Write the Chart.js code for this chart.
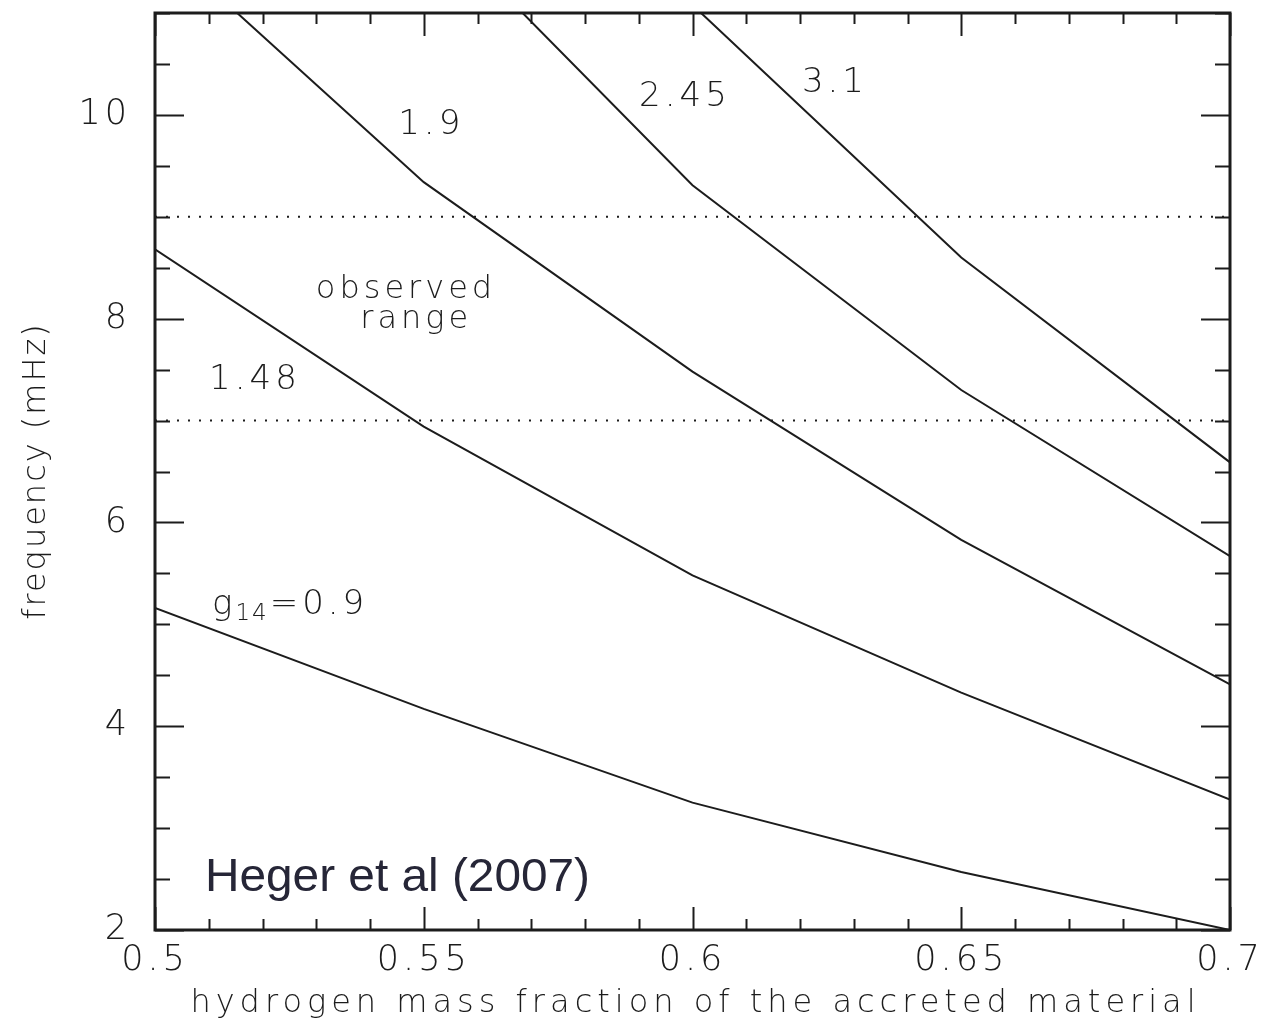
<!DOCTYPE html>
<html>
<head>
<meta charset="utf-8">
<script src="https://cdn.jsdelivr.net/npm/chart.js@4/dist/chart.umd.min.js"></script>
<style>
  html, body { margin: 0; padding: 0; background: #fff; }
  #wrap { width: 1263px; height: 1026px; }
</style>
</head>
<body>
<div id="wrap"><canvas id="freqChart" width="1263" height="1026"></canvas></div>
<script>
// Ignition frequency vs hydrogen fraction, one curve per surface gravity g14
const g090X = [0.5, 0.55, 0.6, 0.65, 0.7];
const g090Y = [5.16, 4.17, 3.25, 2.57, 2.0];

const g148X = [0.5, 0.55, 0.6, 0.65, 0.7];
const g148Y = [8.68, 6.94, 5.48, 4.33, 3.28];

const g190X = [0.5153, 0.55, 0.6, 0.65, 0.7];
const g190Y = [11.0, 9.34, 7.48, 5.83, 4.41];

const g245X = [0.5684, 0.6, 0.65, 0.7];
const g245Y = [11.0, 9.31, 7.30, 5.67];

const g310X = [0.6016, 0.65, 0.7];
const g310Y = [11.0, 8.60, 6.59];

// observed mHz band
const obsLow = 7;
const obsHigh = 9;

const xTicks = [0.5, 0.55, 0.6, 0.65, 0.7];
const yTicks = [2, 4, 6, 8, 10];

const INK = '#1c1c1c';
const TICK_FONT = '"DejaVu Sans", sans-serif';

function pts(xs, ys) {
  return xs.map((x, i) => ({ x: x, y: ys[i] }));
}

function curve(xs, ys) {
  return {
    data: pts(xs, ys),
    borderColor: INK,
    borderWidth: 2,
    pointRadius: 0,
    tension: 0,
    fill: false
  };
}

function band(v) {
  return {
    data: [{ x: 0.5, y: v }, { x: 0.7, y: v }],
    borderColor: INK,
    borderWidth: 2,
    borderDash: [2, 9],
    pointRadius: 0,
    fill: false
  };
}

// frame + inward ticks on all four sides, labels and axis titles
const decorations = {
  id: 'decorations',
  beforeDraw(chart) {
    chart.ctx.letterSpacing = '4px';
  },
  afterDraw(chart) {
    const ctx = chart.ctx;
    const a = chart.chartArea;
    const sx = chart.scales.x, sy = chart.scales.y;
    ctx.save();
    ctx.letterSpacing = '0px';
    ctx.strokeStyle = INK;
    ctx.lineWidth = 2;

    // x ticks: minor every 0.01, major every 0.05
    for (let i = 0; i <= 20; i++) {
      const v = 0.5 + i * 0.01;
      const px = Math.round(sx.getPixelForValue(v)) + 0.5;
      const len = i % 5 === 0 ? 23 : 11;
      ctx.beginPath();
      ctx.moveTo(px, a.bottom); ctx.lineTo(px, a.bottom - len);
      ctx.moveTo(px, a.top); ctx.lineTo(px, a.top + len);
      ctx.stroke();
    }
    // y ticks: minor every 0.5, major every 2
    for (let v = 2; v <= 11; v += 0.5) {
      const py = Math.round(sy.getPixelForValue(v)) + 0.5;
      const len = v % 2 === 0 ? 29 : 15;
      ctx.beginPath();
      ctx.moveTo(a.left, py); ctx.lineTo(a.left + len, py);
      ctx.moveTo(a.right, py); ctx.lineTo(a.right - len, py);
      ctx.stroke();
    }

    ctx.lineWidth = 3;
    ctx.strokeRect(a.left, a.top, a.right - a.left, a.bottom - a.top);

    ctx.fillStyle = INK;
    ctx.textBaseline = 'middle';

    function label(text, x, y, size, spacing, align) {
      ctx.font = '200 ' + size + 'px ' + TICK_FONT;
      ctx.letterSpacing = spacing + 'px';
      ctx.textAlign = align || 'center';
      ctx.fillText(text, sx.getPixelForValue(x), sy.getPixelForValue(y));
    }

    label('1.9', 0.5514, 9.90, 34, 4);
    label('2.45', 0.5986, 10.17, 34, 4);
    label('3.1', 0.6265, 10.31, 34, 4);
    label('observed', 0.5467, 8.28, 32, 4);
    label('range', 0.5486, 7.99, 32, 4);
    label('1.48', 0.5186, 7.40, 34, 4);

    // g14 = 0.9 with subscript
    ctx.textAlign = 'left';
    let gx = sx.getPixelForValue(0.5106);
    const gy = sy.getPixelForValue(5.19);
    ctx.font = '200 34px ' + TICK_FONT;
    ctx.letterSpacing = '2px';
    ctx.fillText('g', gx, gy);
    gx += ctx.measureText('g').width + 1;
    ctx.font = '200 23px ' + TICK_FONT;
    ctx.fillText('14', gx, gy + 9);
    gx += ctx.measureText('14').width + 1;
    ctx.font = '200 34px ' + TICK_FONT;
    ctx.letterSpacing = '4px';
    ctx.fillText('=0.9', gx, gy);

    // axis titles
    ctx.font = '200 32px ' + TICK_FONT;
    ctx.letterSpacing = '5px';
    ctx.textAlign = 'center';
    ctx.fillText('hydrogen mass fraction of the accreted material', (a.left + a.right) / 2 + 3, 1004);

    ctx.save();
    ctx.translate(37, 472);
    ctx.rotate(-Math.PI / 2);
    ctx.letterSpacing = '2px';
    ctx.fillText('frequency (mHz)', 1, 0);
    ctx.restore();

    // citation
    ctx.letterSpacing = '0px';
    ctx.font = '47px "Liberation Sans", Arial, sans-serif';
    ctx.fillStyle = '#262637';
    ctx.textAlign = 'left';
    const cite = 'Heger et al (2007)';
    const w = ctx.measureText(cite).width;
    ctx.save();
    ctx.translate(sx.getPixelForValue(0.5093), sy.getPixelForValue(2.51));
    ctx.scale(385 / w, 1);
    ctx.fillText(cite, 0, 0);
    ctx.restore();

    ctx.restore();
  }
};

new Chart(document.getElementById('freqChart'), {
  type: 'line',
  data: {
    datasets: [
      curve(g090X, g090Y),
      curve(g148X, g148Y),
      curve(g190X, g190Y),
      curve(g245X, g245Y),
      curve(g310X, g310Y),
      band(obsHigh),
      band(obsLow)
    ]
  },
  options: {
    responsive: false,
    animation: false,
    devicePixelRatio: 1,
    layout: { padding: { left: 0, right: 33, top: 13, bottom: 0 } },
    plugins: { legend: { display: false }, tooltip: { enabled: false } },
    scales: {
      x: {
        type: 'linear',
        min: 0.5,
        max: 0.7,
        afterBuildTicks(s) { s.ticks = xTicks.map(v => ({ value: v })); },
        afterFit(s) { s.height = 96; s.paddingLeft = 0; s.paddingRight = 0; },
        grid: { display: false, drawTicks: false },
        border: { display: false },
        ticks: {
          padding: 10,
          maxRotation: 0,
          color: INK,
          font: { family: TICK_FONT, size: 35, weight: 200 },
          callback: v => String(v)
        }
      },
      y: {
        type: 'linear',
        min: 2,
        max: 11,
        afterBuildTicks(s) { s.ticks = yTicks.map(v => ({ value: v })); },
        afterFit(s) { s.width = 155; s.paddingTop = 0; s.paddingBottom = 0; },
        grid: { display: false, drawTicks: false },
        border: { display: false },
        ticks: {
          padding: 24,
          color: INK,
          font: { family: TICK_FONT, size: 35, weight: 200 },
          callback: v => String(v)
        }
      }
    }
  },
  plugins: [decorations]
});
</script>
</body>
</html>
